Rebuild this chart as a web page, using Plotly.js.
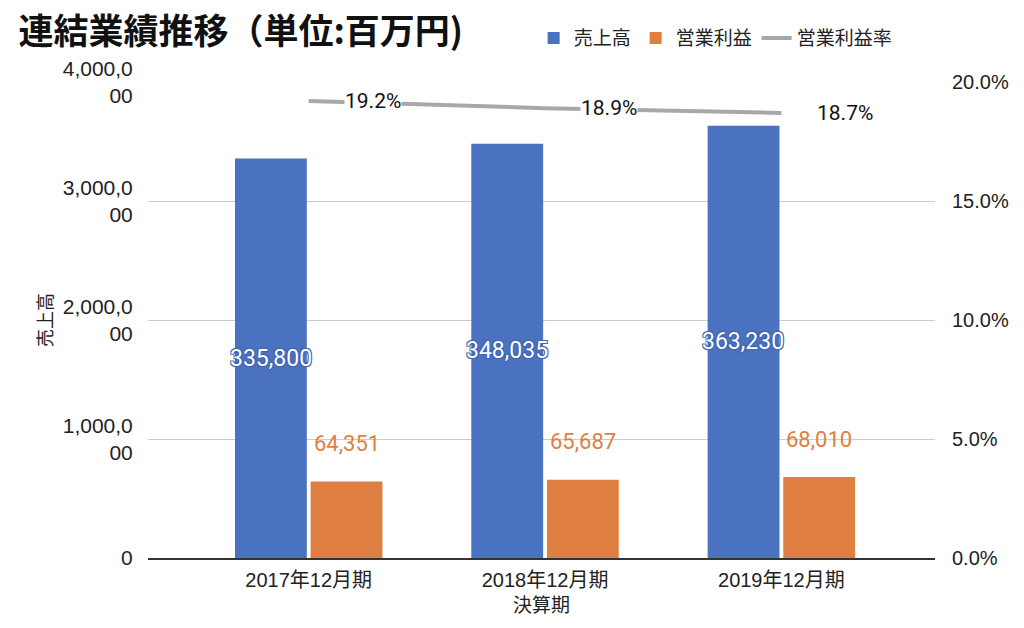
<!DOCTYPE html>
<html>
<head>
<meta charset="utf-8">
<script src="https://cdn.plot.ly/plotly-3.0.1.min.js"></script>
<style>body{margin:0;background:#fff}#chart{width:1024px;height:628px}</style>
</head>
<body>
<div id="chart"></div>
<script>
var periods = ['2017年12月期', '2018年12月期', '2019年12月期'];
var sales = [335800, 348035, 363230];
var profit = [64351, 65687, 68010];
var margin = [0.192, 0.189, 0.187];
var leftTicks = [0, 100000, 200000, 300000, 400000];
var leftLabels = ['0', '1,000,0<br>00', '2,000,0<br>00', '3,000,0<br>00', '4,000,0<br>00'];

var fmt = function (v) { return v.toLocaleString('en-US'); };
var font = '"Liberation Sans", "Noto Sans CJK JP", sans-serif';
var numFont = 'Roboto, "Noto Sans CJK JP", sans-serif';
var jpFont = '"Noto Sans CJK JP", sans-serif';
var blueEdge = '1px 1px 0 #3f63b0, -1px -1px 0 #3f63b0, 1px -1px 0 #3f63b0, -1px 1px 0 #3f63b0';

var traceSales = {
  x: periods, y: sales, name: '売上高', type: 'bar',
  marker: {color: '#4a72c0'},
  hoverinfo: 'none'
};
var traceProfit = {
  x: periods, y: profit, name: '営業利益', type: 'bar',
  marker: {color: '#e07f42'},
  hoverinfo: 'none'
};
var traceMargin = {
  x: periods, y: margin, name: '営業利益率', type: 'scatter', mode: 'lines',
  yaxis: 'y2',
  line: {color: '#a8a8a8', width: 4},
  hoverinfo: 'none'
};

// data labels: sales in the middle of its bar, profit above its bar, percentages right of each point
var annotations = sales.map(function (v, i) {
  return {
    x: periods[i], y: v / 2, xref: 'x', yref: 'y', text: fmt(v), showarrow: false,
    xshift: -38, font: {color: '#ffffff', size: 23, family: numFont, shadow: blueEdge}
  };
}).concat(profit.map(function (v, i) {
  return {
    x: periods[i], y: v, xref: 'x', yref: 'y', text: fmt(v), showarrow: false,
    xshift: 38, yshift: 38, font: {color: '#e07f42', size: 22, family: numFont}
  };
})).concat(margin.map(function (v, i) {
  return {
    x: periods[i], y: v, xref: 'x', yref: 'y2', text: (v * 100).toFixed(1) + '%', showarrow: false,
    xshift: 64, yshift: 0, bgcolor: '#ffffff', borderpad: 0,
    font: {color: '#111111', size: 21, family: numFont}
  };
}));

var layout = {
  width: 1024, height: 628,
  margin: {l: 148, r: 89, t: 82, b: 70},
  paper_bgcolor: '#fff', plot_bgcolor: '#fff',
  font: {family: font, color: '#222'},
  title: {text: '<b>連結業績推移（単位:百万円)</b>', x: 0.018, xanchor: 'left', y: 0.95, yanchor: 'middle',
    font: {size: 35, color: '#111', family: jpFont}},
  barmode: 'group', bargap: 0.36, bargroupgap: 0.05,
  showlegend: true,
  legend: {orientation: 'h', x: 0.49, xanchor: 'left', y: 1.092, yanchor: 'middle',
    font: {size: 19, color: '#222', family: jpFont}, traceorder: 'normal',
    itemwidth: 30},
  xaxis: {
    title: {text: '決算期', font: {size: 19, color: '#222', family: jpFont}, standoff: 4},
    range: [-0.68, 2.65],
    tickfont: {size: 20, color: '#222'},
    showline: true, linecolor: '#333', linewidth: 1.5, ticks: 'outside', ticklen: 3, tickcolor: 'rgba(0,0,0,0)'
  },
  yaxis: {
    title: {text: '売上高', font: {size: 18, color: '#222', family: jpFont}, standoff: 5},
    range: [0, 400000], tickvals: leftTicks, ticktext: leftLabels,
    tickfont: {size: 21, color: '#222'},
    ticks: 'outside', ticklen: 10, tickcolor: 'rgba(0,0,0,0)',
    gridcolor: '#cccccc', zeroline: false
  },
  yaxis2: {
    overlaying: 'y', side: 'right', range: [0, 0.2], dtick: 0.05, tickformat: '.1%',
    tickfont: {size: 20, color: '#222'}, showgrid: false, zeroline: false,
    ticks: 'outside', ticklen: 12, tickcolor: 'rgba(0,0,0,0)'
  },
  annotations: annotations
};

Plotly.newPlot('chart', [traceSales, traceProfit, traceMargin], layout, {staticPlot: true});
</script>
</body>
</html>
